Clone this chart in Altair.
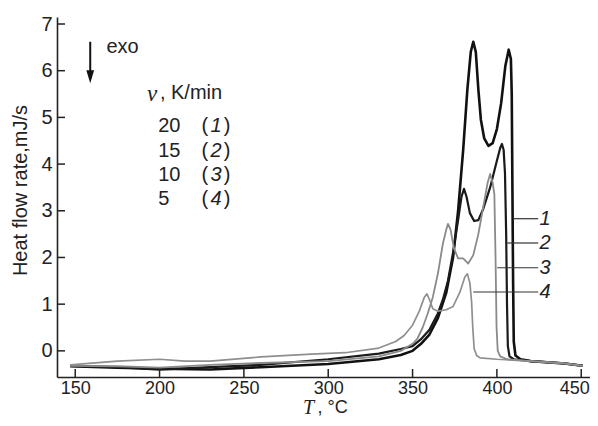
import altair as alt
import pandas as pd

# ---- data (T in °C, heat flow in mJ/s) ----
T1 = [147, 175, 200, 230, 260, 300, 330, 343, 350, 355, 360, 365, 370, 374, 377, 380, 382.5, 384.5, 386,
      387.5, 389, 390.5, 392.5, 395, 397.5, 400, 402.5, 405, 407, 408.3, 408.8, 409.2, 409.6, 410, 411, 414,
      420, 440, 451]
V1 = [-0.33, -0.36, -0.38, -0.40, -0.35, -0.28, -0.18, -0.09, 0.0, 0.15, 0.35, 0.7, 1.25, 2.0, 3.0, 4.3, 5.6,
      6.4, 6.62, 6.4, 5.6, 4.95, 4.55, 4.39, 4.45, 4.75, 5.3, 6.1, 6.45, 6.25, 5.5, 3.5, 1.5, 0.2, -0.1, -0.18,
      -0.22, -0.27, -0.32]

T2 = [147, 175, 200, 230, 260, 300, 330, 343, 350, 355, 360, 365, 368, 371, 374, 377, 379, 380.5, 382, 384,
      386.5, 389, 392, 396, 399.5, 402, 403, 404, 404.8, 405.5, 406, 406.5, 407.5, 410, 420, 440, 451]
V2 = [-0.32, -0.35, -0.40, -0.35, -0.30, -0.18, -0.06, 0.04, 0.1, 0.25, 0.45, 0.8, 1.1, 1.5, 2.1, 2.8, 3.3,
      3.47, 3.3, 2.95, 2.78, 2.8, 3.05, 3.5, 4.0, 4.35, 4.43, 4.3, 3.8, 2.5, 1.0, 0.1, -0.12, -0.18, -0.22,
      -0.27, -0.32]

T3 = [147, 175, 200, 230, 260, 300, 330, 343, 350, 353, 356, 359, 362, 365, 368, 370, 371, 372.5, 374.5, 377,
      380, 383, 386, 389, 392, 394.5, 396, 397.5, 398.5, 399.2, 399.8, 400.5, 402, 406, 420, 440, 451]
V3 = [-0.32, -0.33, -0.36, -0.30, -0.26, -0.22, -0.12, 0.0, 0.15, 0.27, 0.5, 0.8, 1.15, 1.65, 2.3, 2.6, 2.72,
      2.6, 2.2, 1.98, 1.98, 1.87, 2.05, 2.5, 3.1, 3.6, 3.79, 3.6, 3.35, 2.0, 0.5, 0.0, -0.12, -0.18, -0.22,
      -0.27, -0.32]

T4 = [147, 175, 200, 215, 230, 260, 290, 310, 330, 340, 345, 350, 354, 357, 358.5, 360, 362, 365, 370, 374,
      378, 381, 382.5, 384, 385, 385.7, 386.5, 388, 390, 400, 420, 440, 451]
V4 = [-0.30, -0.22, -0.18, -0.22, -0.22, -0.13, -0.07, -0.04, 0.06, 0.20, 0.33, 0.55, 0.85, 1.15, 1.22, 1.10,
      0.90, 0.85, 0.88, 0.95, 1.25, 1.58, 1.65, 1.45, 1.05, 0.5, 0.05, -0.10, -0.15, -0.18, -0.22, -0.27,
      -0.32]

curve_colors = ["#111111", "#1a1a1a", "#8a8a8a", "#8f8f8f"]
curve_widths = [2.6, 2.2, 1.8, 1.7]

x_ticks = [150, 200, 250, 300, 350, 400, 450]
y_ticks = [0, 1, 2, 3, 4, 5, 6, 7]

# curve labels and leader lines
lab_text = ["1", "2", "3", "4"]
lab_y = [2.83, 2.31, 1.78, 1.26]
lead_x0 = [409.7, 406.1, 400.2, 386.0]
lead_x1 = [424.5, 424.5, 424.5, 424.5]
lab_x = [428.6, 428.6, 428.6, 428.6]

# rate legend
rate_vals = ["20", "15", "10", "5"]
rate_nums = ["1", "2", "3", "4"]
rate_y = [4.82, 4.29, 3.77, 3.25]

W, H = 533, 360
X0, X1 = 139.2, 455.2
Y0, Y1 = -0.56, 7.15
xs = alt.Scale(domain=[X0, X1], nice=False, zero=False)
ys = alt.Scale(domain=[Y0, Y1], nice=False, zero=False)
FONT = "Liberation Sans"
SERIF = "Liberation Serif"
TXT = "#222222"

XAX = alt.Axis(values=x_ticks, tickSize=0, ticks=False, labelFontSize=18, labelFont=FONT,
               labelColor=TXT, labelPadding=2, title=None, grid=False,
               domainColor=TXT, domainWidth=1.6,
               labelOffset={"condition": {"test": "datum.value >= 450", "value": -7}, "value": 0})
YAX = alt.Axis(values=y_ticks, tickSize=0, ticks=False, labelFontSize=20, labelFont=FONT,
               labelColor=TXT, labelPadding=5, grid=False, domainColor=TXT, domainWidth=1.6,
               title="Heat flow rate,mJ/s", titleFont=FONT, titleFontSize=20,
               titleFontWeight="normal", titleColor=TXT, titleX=-27, titleY=173,
               titleAlign="center", titleAngle=-90)


def X(field):
    return alt.X(field, scale=xs, axis=XAX)


def Y(field):
    return alt.Y(field, scale=ys, axis=YAX)


layers = []
for i, (T, V) in enumerate([(T1, V1), (T2, V2), (T3, V3), (T4, V4)]):
    d = pd.DataFrame({"T": T, "V": V, "i": list(range(len(T)))})
    layers.append(
        alt.Chart(d).mark_line(color=curve_colors[i], strokeWidth=curve_widths[i],
                               strokeJoin="round").encode(
            x=X("T:Q"), y=Y("V:Q"), order="i:Q")
    )

# inward ticks (8 px long)
tick_dx = 8 * (X1 - X0) / W
tick_dy = 8 * (Y1 - Y0) / H
xt = alt.Chart(pd.DataFrame({"t": x_ticks, "a": [Y0] * len(x_ticks),
                             "b": [Y0 + tick_dy] * len(x_ticks)})).mark_rule(
    color=TXT, strokeWidth=1.5).encode(x=X("t:Q"), y=Y("a:Q"), y2="b:Q")
yt = alt.Chart(pd.DataFrame({"t": y_ticks, "a": [X0] * len(y_ticks),
                             "b": [X0 + tick_dx] * len(y_ticks)})).mark_rule(
    color=TXT, strokeWidth=1.5).encode(y=Y("t:Q"), x=X("a:Q"), x2="b:Q")

# leader lines and labels
lead_df = pd.DataFrame({"x0": lead_x0, "x1": lead_x1, "y": lab_y, "t": lab_text, "lx": lab_x})
leads = alt.Chart(lead_df).mark_rule(color="#333333", strokeWidth=1.2).encode(
    x=X("x0:Q"), x2="x1:Q", y=Y("y:Q"))
labs = alt.Chart(lead_df).mark_text(font=FONT, fontSize=20, fontStyle="italic", color=TXT,
                                    align="center", baseline="middle").encode(
    x=X("lx:Q"), y=Y("y:Q"), text="t:N")

# exo arrow
arrow_df = pd.DataFrame({"x": [158.9], "y0": [6.62], "y1": [5.95], "yh": [5.87]})
shaft = alt.Chart(arrow_df).mark_rule(color="#111111", strokeWidth=2).encode(
    x=X("x:Q"), y=Y("y0:Q"), y2="y1:Q")
head = alt.Chart(arrow_df).mark_point(shape="M-0.6,-1L0.6,-1L0,1Z", filled=True, size=169,
                                      color="#111111", opacity=1).encode(
    x=X("x:Q"), y=Y("yh:Q"))
exo = alt.Chart(pd.DataFrame({"x": [168.5], "y": [6.51], "t": ["exo"]})).mark_text(
    font=FONT, fontSize=20, color=TXT, align="left", baseline="middle").encode(
    x=X("x:Q"), y=Y("y:Q"), text="t:N")

# rate legend block
vsym = alt.Chart(pd.DataFrame({"x": [192.5], "y": [5.50], "t": ["v"]})).mark_text(
    font=SERIF, fontSize=23, fontStyle="italic", color=TXT, align="left", baseline="middle").encode(
    x=X("x:Q"), y=Y("y:Q"), text="t:N")
vunit = alt.Chart(pd.DataFrame({"x": [200.2], "y": [5.52], "t": [", K/min"]})).mark_text(
    font=FONT, fontSize=20, color=TXT, align="left", baseline="middle").encode(
    x=X("x:Q"), y=Y("y:Q"), text="t:N")

rate_df = pd.DataFrame({"r": rate_vals, "n": rate_nums, "y": rate_y,
                        "xr": [199.2] * 4, "xl": [226.9] * 4, "xn": [233.5] * 4, "xp": [240.0] * 4,
                        "lp": ["("] * 4, "rp": [")"] * 4})
rate_txt = alt.Chart(rate_df).mark_text(font=FONT, fontSize=20, color=TXT, align="left",
                                        baseline="middle").encode(
    x=X("xr:Q"), y=Y("y:Q"), text="r:N")
lpar = alt.Chart(rate_df).mark_text(font=FONT, fontSize=20, color=TXT, align="center",
                                    baseline="middle").encode(
    x=X("xl:Q"), y=Y("y:Q"), text="lp:N")
nums = alt.Chart(rate_df).mark_text(font=FONT, fontSize=20, fontStyle="italic", color=TXT,
                                    align="center", baseline="middle").encode(
    x=X("xn:Q"), y=Y("y:Q"), text="n:N")
rpar = alt.Chart(rate_df).mark_text(font=FONT, fontSize=20, color=TXT, align="center",
                                    baseline="middle").encode(
    x=X("xp:Q"), y=Y("y:Q"), text="rp:N")

# x axis title: italic serif T + ", °C"
xt_T = alt.Chart(pd.DataFrame({"x": [288.4], "t": ["T"]})).mark_text(
    font=SERIF, fontSize=20, fontStyle="italic", color=TXT, align="center", baseline="middle").encode(
    x=X("x:Q"), y=alt.value(H + 31), text="t:N")
xt_u = alt.Chart(pd.DataFrame({"x": [293.6], "t": [", °C"]})).mark_text(
    font=FONT, fontSize=18, color=TXT, align="left", baseline="middle").encode(
    x=X("x:Q"), y=alt.value(H + 31), text="t:N")

chart = alt.layer(*layers, xt, yt, leads, labs, shaft, head, exo, vsym, vunit,
                  rate_txt, lpar, nums, rpar, xt_T, xt_u).properties(
    width=W, height=H,
    autosize=alt.AutoSizeParams(type="none"),
    padding={"left": 49, "top": 9, "right": 0, "bottom": 41},
    background="white",
).configure_view(stroke=None)

chart.save("out.html", embed_options={"renderer": "svg", "actions": False})
